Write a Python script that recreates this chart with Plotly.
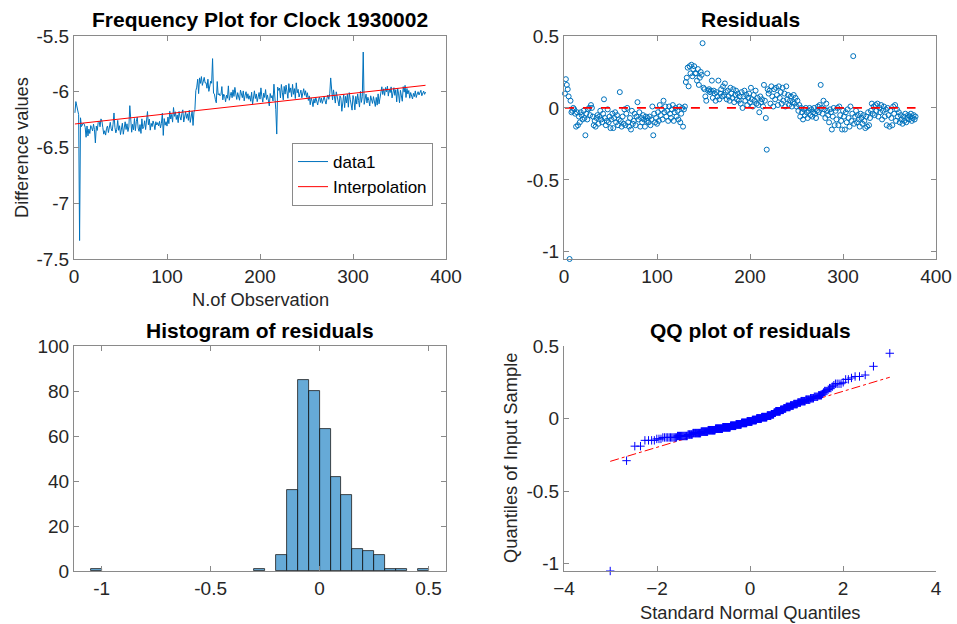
import numpy as np
import plotly.graph_objects as go
from statistics import NormalDist

# ---------------- data ----------------
residuals = [
    0.10, 0.20, 0.16, 0.13, 0.08, -1.05, 0.05, -0.03, -0.02, 0.00,
    -0.01, -0.04, -0.13, -0.03, -0.12, -0.06, -0.10, -0.03, -0.05, -0.08,
    -0.02, -0.07, -0.19, -0.04, -0.08, -0.01, 0.00, -0.05, 0.02, 0.00,
    -0.06, -0.12, -0.09, -0.13, -0.07, -0.05, -0.11, -0.06, -0.02, -0.08,
    -0.10, -0.04, 0.06, -0.07, -0.12, -0.09, -0.01, -0.10, -0.06, -0.14,
    -0.08, -0.04, -0.14, -0.07, -0.03, -0.10, -0.05, -0.12, -0.08, 0.11,
    -0.09, -0.13, -0.06, -0.11, -0.01, -0.12, -0.04, 0.00, -0.10, -0.13,
    -0.07, -0.15, -0.02, -0.11, -0.09, -0.04, -0.12, -0.06, 0.04, -0.08,
    -0.03, -0.13, -0.07, -0.10, -0.05, -0.08, -0.13, -0.06, -0.09, -0.07,
    -0.10, -0.06, -0.12, -0.08, 0.01, -0.19, -0.04, -0.10, -0.07, -0.11,
    -0.03, -0.09, 0.02, -0.05, -0.01, -0.08, 0.05, -0.03, 0.01, -0.06,
    -0.02, -0.09, 0.01, -0.04, -0.07, -0.01, 0.02, -0.09, -0.03, 0.00,
    -0.06, -0.02, -0.08, 0.01, -0.10, -0.04, 0.00, -0.13, -0.01, 0.01,
    0.18, 0.21, 0.28, 0.15, 0.29, 0.24, 0.30, 0.22, 0.27, 0.29,
    0.24, 0.24, 0.19, 0.27, 0.16, 0.21, 0.25, 0.23, 0.45, 0.14,
    0.13, 0.08, 0.05, 0.24, 0.12, 0.13, 0.11, 0.12, 0.19, 0.07,
    0.12, 0.10, 0.05, 0.11, 0.08, 0.19, 0.06, 0.10, 0.13, 0.08,
    0.15, 0.09, 0.17, 0.11, 0.06, 0.12, 0.08, 0.05, 0.14, 0.10,
    0.07, 0.13, 0.04, 0.09, 0.12, 0.06, 0.10, 0.05, 0.08, 0.03,
    0.11, 0.00, 0.08, 0.12, 0.05, 0.09, 0.02, 0.07, 0.10, 0.04,
    0.14, 0.06, 0.01, 0.09, 0.05, 0.12, 0.03, 0.07, 0.02, -0.03,
    0.08, 0.04, 0.06, 0.01, 0.16, 0.05, -0.07, -0.29, 0.13, 0.10,
    0.12, 0.03, 0.15, 0.08, 0.01, 0.13, 0.06, 0.14, 0.09, 0.02,
    0.15, 0.07, 0.11, 0.03, 0.14, 0.05, 0.10, 0.01, 0.15, 0.06,
    0.09, 0.02, 0.05, 0.08, 0.01, 0.04, 0.09, 0.03, 0.07, 0.01,
    0.05, -0.02, 0.02, -0.06, 0.00, -0.03, -0.08, -0.01, -0.05, 0.00,
    -0.03, -0.07, -0.02, 0.00, -0.05, -0.01, -0.06, -0.03, 0.00, -0.04,
    -0.07, -0.02, 0.01, -0.03, 0.02, 0.16, 0.00, -0.04, 0.05, -0.01,
    -0.07, 0.03, -0.02, -0.05, -0.10, -0.01, -0.03, -0.15, -0.06, 0.00,
    -0.12, -0.02, -0.08, 0.00, -0.12, 0.01, -0.05, -0.09, -0.15, -0.02,
    -0.06, -0.15, -0.03, -0.10, -0.01, -0.07, -0.13, 0.01, -0.09, -0.04,
    0.36, -0.11, -0.06, -0.02, -0.10, -0.05, -0.08, -0.13, -0.04, -0.07,
    -0.11, -0.05, -0.09, -0.14, -0.06, -0.13, -0.03, -0.12, -0.07, -0.02,
    0.03, -0.04, 0.01, -0.05, 0.02, -0.02, 0.03, -0.06, 0.00, -0.03,
    0.02, -0.08, -0.02, 0.01, -0.06, -0.01, -0.12, 0.00, -0.05, -0.13,
    -0.02, -0.07, -0.12, 0.01, -0.04, 0.02, -0.09, -0.01, -0.06, -0.03,
    -0.10, -0.05, -0.08, -0.11, -0.06, -0.09, -0.04, -0.10, -0.07, -0.05,
    -0.08, -0.06, -0.04, -0.09, -0.07, -0.05, -0.08, -0.06,
]
fit_intercept = -6.29   # interpolation line value at observation 0
fit_slope = 0.00092     # interpolation line slope per observation

hist_edges_start = -1.05
hist_bin_width = 0.05
hist_counts = [1, 0, 0, 0, 0, 0, 0, 0, 0, 0, 0, 0, 0, 0, 0, 1, 0, 7, 36, 85,
               80, 63, 42, 34, 10, 9, 7, 1, 1, 0, 1]

legend_names = ["data1", "Interpolation"]
titles = ["Frequency Plot for Clock 1930002", "Residuals",
          "Histogram of residuals", "QQ plot of residuals"]

# ---------------- derived ----------------
n = len(residuals)
obs = np.arange(1, n + 1)
res = np.array(residuals)
fit = fit_intercept + fit_slope * obs
data1 = fit + res

hist_x = [hist_edges_start + hist_bin_width * (i + 0.5)
          for i, c in enumerate(hist_counts) if c > 0]
hist_y = [c for c in hist_counts if c > 0]

sorted_res = np.sort(res)
nd = NormalDist()
theo = np.array([nd.inv_cdf((i - 0.5) / n) for i in range(1, n + 1)])
q1x, q3x = nd.inv_cdf(0.25), nd.inv_cdf(0.75)
q1y, q3y = np.percentile(res, 25), np.percentile(res, 75)
slope = (q3y - q1y) / (q3x - q1x)
icpt = q1y - slope * q1x
line_x = [theo[0], theo[-1]]
line_y = [icpt + slope * v for v in line_x]

BLUE = "#0072BD"
FONT = "Liberation Sans, Arial, Helvetica, sans-serif"
W, H = 957, 624

fig = go.Figure()
fig.add_trace(go.Scatter(x=obs, y=data1, mode="lines", name=legend_names[0],
                         line=dict(color=BLUE, width=1), xaxis="x", yaxis="y"))
fig.add_trace(go.Scatter(x=obs, y=fit, mode="lines", name=legend_names[1],
                         line=dict(color="#FF0000", width=1), xaxis="x", yaxis="y"))
fig.add_trace(go.Scatter(x=obs, y=res, mode="markers", showlegend=False, cliponaxis=False,
                         marker=dict(symbol="circle-open", size=5, color=BLUE,
                                     line=dict(width=1, color=BLUE)),
                         xaxis="x2", yaxis="y2"))
fig.add_trace(go.Scatter(x=[obs[0], obs[-1]], y=[0, 0], mode="lines", showlegend=False,
                         line=dict(color="#FF0000", width=1.8, dash="dash"),
                         xaxis="x2", yaxis="y2"))
fig.add_trace(go.Bar(x=hist_x, y=hist_y, width=hist_bin_width, showlegend=False,
                     marker=dict(color="rgba(0,114,189,0.6)", line=dict(color="#1a1a1a", width=0.8)),
                     xaxis="x3", yaxis="y3"))
fig.add_trace(go.Scatter(x=line_x, y=line_y, mode="lines", showlegend=False,
                         line=dict(color="#FF0000", width=1, dash="dashdot"),
                         xaxis="x4", yaxis="y4"))
fig.add_trace(go.Scatter(x=theo, y=sorted_res, mode="markers", showlegend=False, cliponaxis=False,
                         marker=dict(symbol="cross-thin", size=6, color="#0000FF",
                                     line=dict(width=1, color="#0000FF")),
                         xaxis="x4", yaxis="y4"))

LINEC = "#8a8a8a"
TICKF = dict(family=FONT, size=19, color="#262626")


def ax(domain, rng, tickvals, anchor, mirror=True, ticktext=None):
    d = dict(domain=domain, range=rng, tickvals=tickvals, anchor=anchor, automargin=False,
             showline=True, linecolor=LINEC, linewidth=1, mirror="allticks" if mirror else False,
             ticks="inside", ticklen=5, tickcolor=LINEC, tickfont=TICKF,
             showgrid=False, zeroline=False, fixedrange=True)
    if ticktext is not None:
        d["ticktext"] = ticktext
    return d


xl = [74 / W, 446 / W]
xr = [564 / W, 936 / W]
yt = [1 - 259 / H, 1 - 36 / H]
yb = [1 - 571 / H, 1 - 346 / H]

fig.update_layout(
    width=W, height=H, margin=dict(l=0, r=0, t=0, b=0, autoexpand=False),
    paper_bgcolor="white", plot_bgcolor="white",
    font=dict(family=FONT, color="#262626"),
    xaxis=ax(xl, [0, 400], [0, 100, 200, 300, 400], "y"),
    yaxis=ax(yt, [-7.5, -5.5], [-7.5, -7, -6.5, -6, -5.5], "x",
             ticktext=["-7.5", "-7", "-6.5", "-6", "-5.5"]),
    xaxis2=ax(xr, [0, 400], [0, 100, 200, 300, 400], "y2"),
    yaxis2=ax(yt, [-1.05, 0.5], [-1, -0.5, 0, 0.5], "x2", ticktext=["-1", "-0.5", "0", "0.5"]),
    xaxis3=ax(xl, [-1.127, 0.58], [-1, -0.5, 0, 0.5], "y3", ticktext=["-1", "-0.5", "0", "0.5"]),
    yaxis3=ax(yb, [0, 100], [0, 20, 40, 60, 80, 100], "x3"),
    xaxis4=ax(xr, [-4, 4], [-4, -2, 0, 2, 4], "y4", mirror=False),
    yaxis4=ax(yb, [-1.05, 0.5], [-1, -0.5, 0, 0.5], "x4", mirror=False,
              ticktext=["-1", "-0.5", "0", "0.5"]),
    bargap=0,
    showlegend=True,
    legend=dict(x=292 / W, y=1 - 143 / H, xanchor="left", yanchor="top",
                bgcolor="white", bordercolor=LINEC, borderwidth=1,
                font=dict(family=FONT, size=17, color="#000000"),
                itemwidth=30, tracegroupgap=0),
)

TITLEF = dict(family=FONT, size=21, color="#000000")
LABELF = dict(family=FONT, size=18.3, color="#262626")
ann = [
    dict(text="<b>%s</b>" % titles[0], x=(74 + 446) / 2 / W, y=1 - 19.5 / H, font=TITLEF),
    dict(text="<b>%s</b>" % titles[1], x=(564 + 936) / 2 / W, y=1 - 19.5 / H, font=TITLEF),
    dict(text="<b>%s</b>" % titles[2], x=(74 + 446) / 2 / W, y=1 - 330 / H, font=TITLEF),
    dict(text="<b>%s</b>" % titles[3], x=(564 + 936) / 2 / W, y=1 - 330 / H, font=TITLEF),
    dict(text="N.of Observation", x=(74 + 446) / 2 / W, y=1 - 299 / H, font=LABELF),
    dict(text="Difference values", x=21 / W, y=1 - 148 / H, font=LABELF, textangle=-90),
    dict(text="Standard Normal Quantiles", x=(564 + 936) / 2 / W, y=1 - 612 / H, font=LABELF),
    dict(text="Quantiles of Input Sample", x=511 / W, y=1 - 458 / H, font=LABELF, textangle=-90),
]
for a in ann:
    a.update(xref="paper", yref="paper", xanchor="center", yanchor="middle", showarrow=False)
fig.update_layout(annotations=ann)

fig.write_html("out.html")
